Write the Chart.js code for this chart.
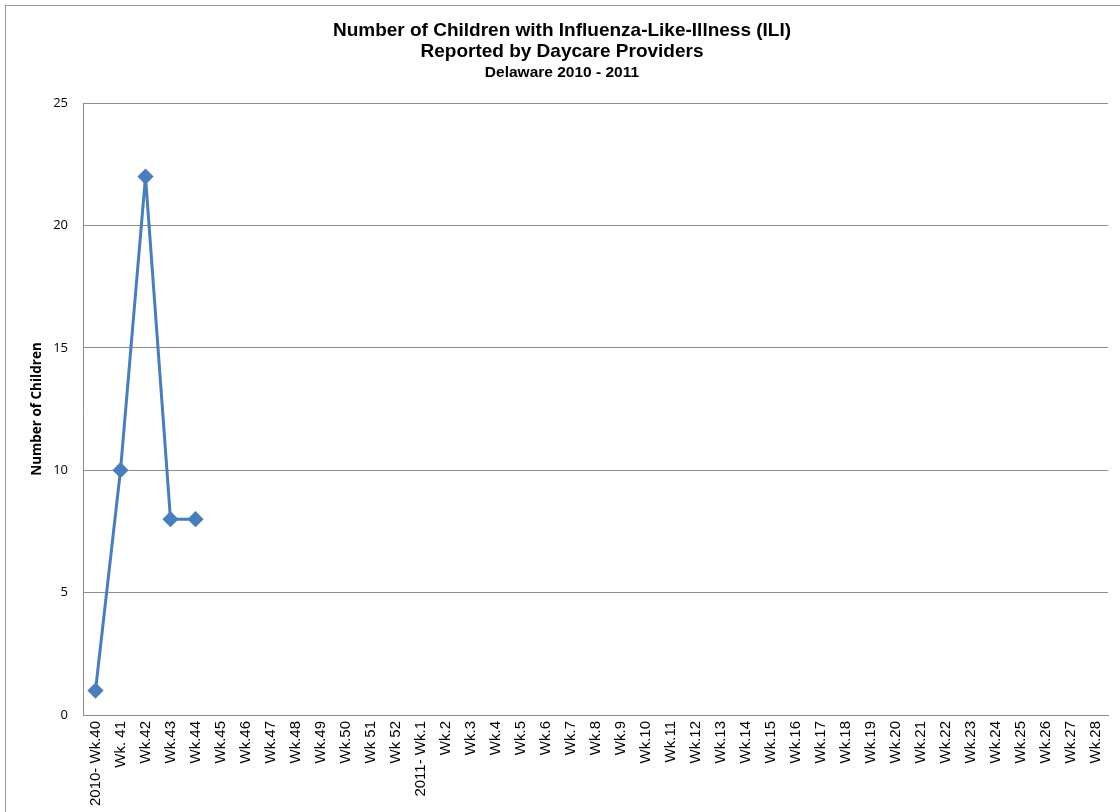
<!DOCTYPE html>
<html>
<head>
<meta charset="utf-8">
<script src="https://cdn.jsdelivr.net/npm/chart.js@4"></script>
<style>
  html, body { margin: 0; padding: 0; background: #fff; }
  #wrap { width: 1120px; height: 812px; }
</style>
</head>
<body>
<div id="wrap"><canvas id="chart" width="1120" height="812"></canvas></div>
<script>
// Semaines de la saison 2010 - 2011
const weeks = [
  "2010- Wk.40", "Wk. 41", "Wk.42", "Wk.43", "Wk.44", "Wk.45", "Wk.46", "Wk.47",
  "Wk.48", "Wk.49", "Wk.50", "Wk 51", "Wk 52", "2011- Wk.1", "Wk.2", "Wk.3",
  "Wk.4", "Wk.5", "Wk.6", "Wk.7", "Wk.8", "Wk.9", "Wk.10", "Wk.11", "Wk.12",
  "Wk.13", "Wk.14", "Wk.15", "Wk.16", "Wk.17", "Wk.18", "Wk.19", "Wk.20",
  "Wk.21", "Wk.22", "Wk.23", "Wk.24", "Wk.25", "Wk.26", "Wk.27", "Wk.28"
];

// Nombre d'enfants avec ILI (seules les 5 premières semaines sont rapportées)
const reported = [1, 10, 22, 8, 8];
const children = weeks.map((_, i) => (i < reported.length ? reported[i] : null));

const yTicks = [0, 5, 10, 15, 20, 25];

const titleLines = [
  "Number of Children with Influenza-Like-Illness (ILI)",
  "Reported by Daycare Providers"
];
const subtitleText = "Delaware 2010 - 2011";
const yTitle = "Number of Children";

const lineBlue = "#4A7EBB";
const gridGray = "#8C8C8C";

// Cadre extérieur gris (comme le graphique Excel, coupé à droite et en bas)
const outerFrame = {
  id: "outerFrame",
  beforeDraw(chart) {
    const ctx = chart.ctx;
    ctx.save();
    ctx.strokeStyle = "#9A9A9A";
    ctx.lineWidth = 1;
    ctx.strokeRect(5.5, 5.5, 1300, 1000);
    ctx.restore();
  }
};

new Chart(document.getElementById("chart"), {
  type: "line",
  data: {
    labels: weeks,
    datasets: [{
      label: "ILI",
      data: children,
      borderColor: lineBlue,
      backgroundColor: lineBlue,
      borderWidth: 3,
      pointStyle: "rectRot",
      pointRadius: 6,
      pointHoverRadius: 6,
      pointBackgroundColor: lineBlue,
      pointBorderColor: lineBlue,
      tension: 0,
      spanGaps: false
    }]
  },
  options: {
    responsive: false,
    animation: false,
    devicePixelRatio: 1,
    layout: { padding: { left: 16, right: 12, top: 0, bottom: 0 } },
    plugins: {
      legend: { display: false },
      tooltip: { enabled: false },
      title: {
        display: true,
        text: titleLines,
        color: "#000",
        font: { family: "'Liberation Sans', Arial, sans-serif", size: 19, weight: "bold", lineHeight: 1.105 },
        padding: { top: 20.5, bottom: 1 }
      },
      subtitle: {
        display: true,
        text: subtitleText,
        color: "#000",
        font: { family: "'Liberation Sans', Arial, sans-serif", size: 15.5, weight: "bold", lineHeight: 1.2 },
        padding: { top: 0, bottom: 21 }
      }
    },
    scales: {
      x: {
        offset: true,
        grid: { display: false, drawTicks: false },
        border: { display: true, color: gridGray, width: 1 },
        ticks: {
          autoSkip: false,
          minRotation: 90,
          maxRotation: 90,
          padding: 6,
          color: "#000",
          font: { family: "'Liberation Sans', Arial, sans-serif", size: 15 }
        },
        afterFit(scale) { scale.height = 97; }
      },
      y: {
        min: 0,
        max: 25,
        afterBuildTicks(scale) { scale.ticks = yTicks.map(v => ({ value: v })); },
        grid: { color: gridGray, lineWidth: 1, drawTicks: false },
        border: { display: true, color: gridGray, width: 1 },
        ticks: {
          padding: 15,
          color: "#000",
          font: { family: "'Open Sans', sans-serif", size: 13 }
        },
        title: {
          display: true,
          text: yTitle,
          color: "#000",
          font: { family: "'Open Sans', sans-serif", size: 13.5, weight: "bold" },
          padding: { top: 13, bottom: 0 }
        },
        afterFit(scale) { scale.width = 67; }
      }
    }
  },
  plugins: [outerFrame]
});
</script>
</body>
</html>
